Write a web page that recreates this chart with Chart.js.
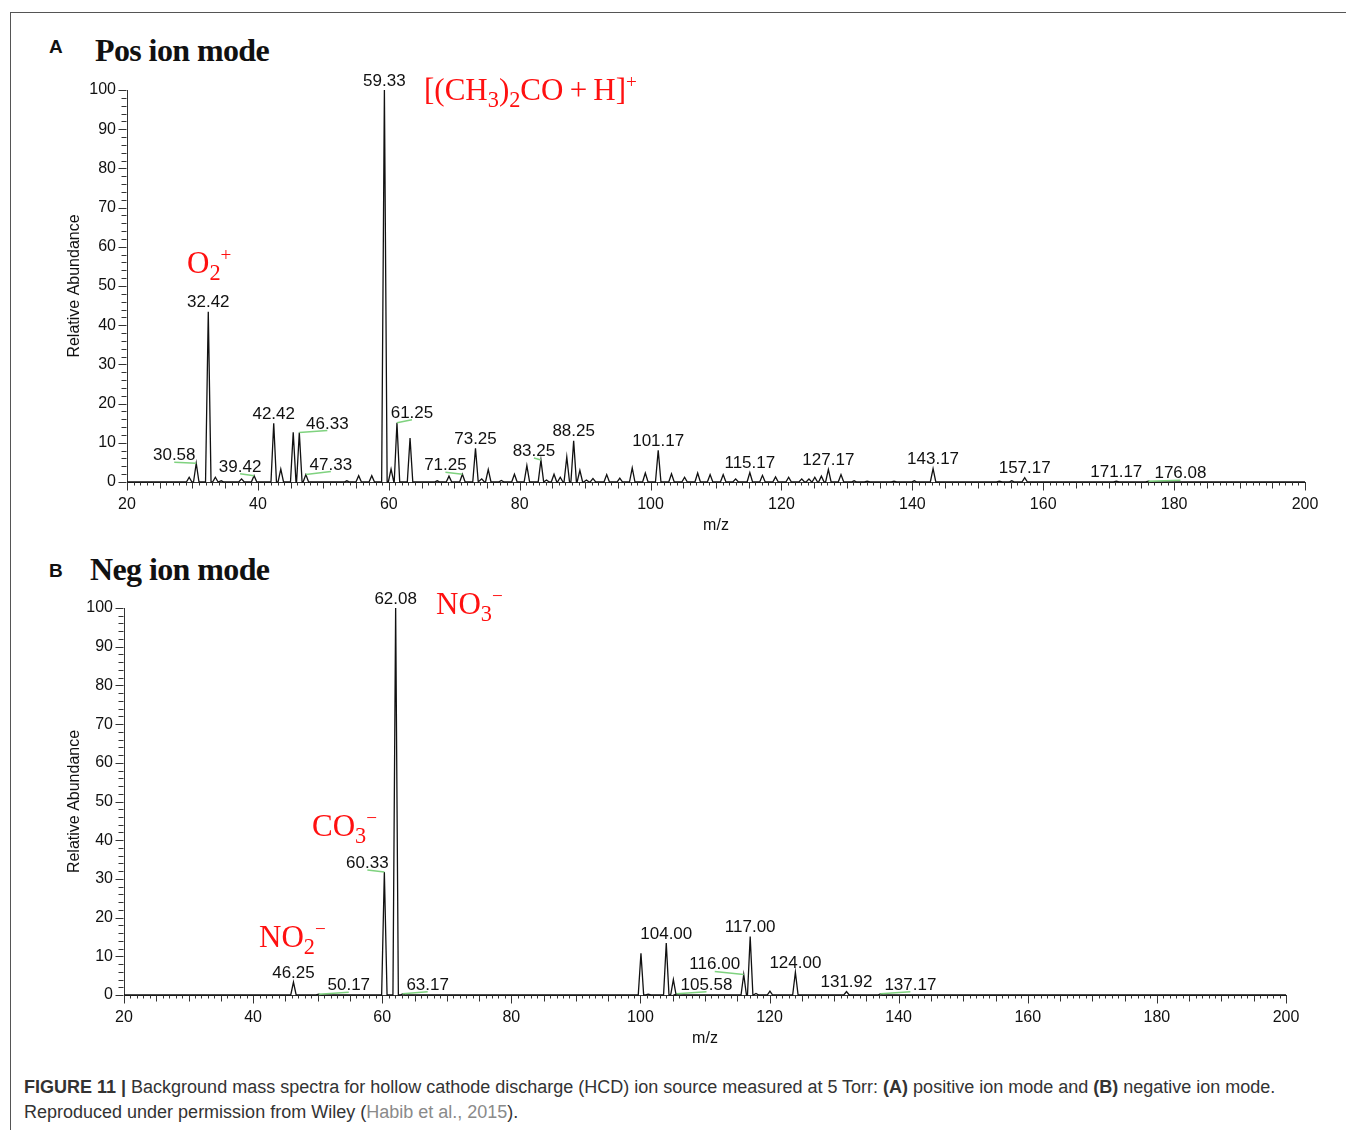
<!DOCTYPE html>
<html>
<head>
<meta charset="utf-8">
<script src="https://cdn.jsdelivr.net/npm/chart.js@4.4.0/dist/chart.umd.min.js"></script>
<style>
  body { margin:0; background:#fff; width:1346px; height:1130px; position:relative; overflow:hidden; font-family: Arial, "Liberation Sans", sans-serif; }
  .frame { position:absolute; left:10px; top:12px; width:1340px; height:1130px; border-left:1px solid #555; border-top:1px solid #555; }
  canvas { position:absolute; }
  .panel { position:absolute; font-weight:bold; font-size:19px; line-height:1; color:#111; }
  .ptitle { position:absolute; font-family:"Liberation Serif","Times New Roman",serif; font-weight:bold; font-size:32px; line-height:1; letter-spacing:-0.6px; color:#111; white-space:nowrap; }
  .ion { position:absolute; font-family:"Liberation Serif","Times New Roman",serif; color:#ff1010; font-size:31px; line-height:1; white-space:nowrap; }
  .ion sub { font-size:0.72em; vertical-align:-0.3em; line-height:0; }
  .ion sup { font-size:0.62em; vertical-align:0.6em; line-height:0; }
  .caption { position:absolute; left:24px; top:1075px; font-size:18px; line-height:25px; color:#333; white-space:nowrap; }
</style>
</head>
<body>
<div class="frame"></div>

<div class="panel" style="left:49px;top:37px">A</div>
<div class="ptitle" style="left:95px;top:34px">Pos ion mode</div>
<div class="panel" style="left:49px;top:561px">B</div>
<div class="ptitle" style="left:90px;top:553px">Neg ion mode</div>

<canvas id="posChart" width="1310" height="477" style="left:20px;top:60px"></canvas>
<canvas id="negChart" width="1290" height="475" style="left:20px;top:575px"></canvas>

<div class="ion" style="left:424px;top:74px">[(CH<sub>3</sub>)<sub>2</sub>CO&thinsp;+&thinsp;H]<sup>+</sup></div>
<div class="ion" style="left:187px;top:247px">O<sub>2</sub><sup>+</sup></div>
<div class="ion" style="left:436px;top:588px">NO<sub>3</sub><sup>&minus;</sup></div>
<div class="ion" style="left:312px;top:810px">CO<sub>3</sub><sup>&minus;</sup></div>
<div class="ion" style="left:259px;top:921px">NO<sub>2</sub><sup>&minus;</sup></div>

<div class="caption"><b>FIGURE 11 |</b> Background mass spectra for hollow cathode discharge (HCD) ion source measured at 5 Torr: <b>(A)</b> positive ion mode and <b>(B)</b> negative ion mode.<br>Reproduced under permission from Wiley (<span style="color:#8a8a8a">Habib et al., 2015</span>).</div>

<script>
// ===== DATA =====
const xTickValues = [20, 40, 60, 80, 100, 120, 140, 160, 180, 200];
const yTickValues = [0, 10, 20, 30, 40, 50, 60, 70, 80, 90, 100];

// positive ion mode: peak m/z and relative abundance
const posMz = [29.50, 30.58, 32.42, 33.50, 34.40, 37.50, 39.42, 42.42, 43.50, 45.40, 46.33, 47.33,
  53.60, 55.40, 57.40, 59.33, 60.35, 61.25, 63.25, 67.40, 69.20, 71.25, 73.25, 74.20, 75.20, 77.20,
  79.20, 81.10, 83.25, 84.10, 85.25, 86.20, 87.20, 88.25, 89.20, 90.20, 91.20, 93.30, 95.30, 97.20,
  99.20, 101.17, 103.20, 105.20, 107.20, 109.10, 111.10, 113.00, 115.17, 117.10, 119.10, 121.10,
  123.10, 124.20, 125.10, 126.10, 127.17, 129.10, 131.10, 133.10, 137.20, 140.30, 143.17, 153.30,
  155.20, 157.17, 171.17, 176.08];
const posAbund = [1.2, 4.8, 43.4, 1.2, 0.3, 0.8, 1.6, 15.0, 3.3, 12.7, 12.6, 1.9,
  0.3, 1.6, 1.6, 100, 3.3, 15.1, 11.2, 0.3, 1.5, 2.0, 8.6, 0.8, 3.2, 0.4,
  2.0, 4.2, 5.6, 0.5, 2.0, 1.2, 6.4, 10.5, 3.0, 0.5, 0.9, 1.9, 1.0, 3.6,
  2.3, 8.1, 2.1, 1.2, 2.3, 1.9, 1.9, 0.8, 2.4, 1.7, 1.3, 1.2,
  0.8, 0.8, 1.2, 1.5, 3.2, 1.9, 0.3, 0.2, 0.2, 0.3, 3.4, 0.2,
  0.3, 1.1, 0.2, 0.2];
const posLabels = ["30.58", "32.42", "39.42", "42.42", "46.33", "47.33", "59.33", "61.25", "71.25",
  "73.25", "83.25", "88.25", "101.17", "115.17", "127.17", "143.17", "157.17", "171.17", "176.08"];

// negative ion mode
const negMz = [46.25, 50.17, 60.33, 62.08, 63.17, 100.08, 101.20, 104.00, 105.10, 105.58,
  116.00, 117.00, 117.90, 120.06, 124.00, 131.92, 137.17];
const negAbund = [3.3, 0.2, 31.8, 100, 0.3, 10.8, 0.2, 13.4, 4.0, 0.3,
  5.3, 15.1, 0.4, 1.0, 5.9, 0.9, 0.3];
const negLabels = ["46.25", "50.17", "60.33", "62.08", "63.17", "104.00", "105.58", "116.00",
  "117.00", "124.00", "131.92", "137.17"];

// ===== LAYOUT (label offsets in px: text centre dx / baseline dy from peak apex) =====
const posLeaders = {
  "30.58": [-22, -3], "39.42": [-14, -4], "46.33": [28, -4], "47.33": [25, -5],
  "61.25": [15, -5], "71.25": [-17, -4], "83.25": [-7, -4], "176.08": [32, -3]
};
const negLeaders = {
  "60.33": [-17, -4], "50.17": [30, -4], "63.17": [25, -4], "105.58": [30, -4],
  "116.00": [-29, -5], "137.17": [30, -4]
};
const PEAK_HALF = 0.42;

// ===== BUILD PROFILE =====
function profile(mz, ab) {
  const pts = [{ x: 20, y: 0 }];
  mz.forEach((m, i) => {
    pts.push({ x: m - PEAK_HALF, y: 0 }, { x: m, y: ab[i] }, { x: m + PEAK_HALF, y: 0 });
  });
  pts.push({ x: 200, y: 0 });
  return pts;
}

// ===== PLUGINS =====
const peakLabels = {
  id: "peakLabels",
  afterDatasetsDraw(chart, args, opts) {
    const { ctx, scales: { x, y } } = chart;
    ctx.save();
    ctx.font = '17px Arial, "Liberation Sans", sans-serif';
    ctx.fillStyle = "#111";
    ctx.textAlign = "center";
    ctx.textBaseline = "alphabetic";
    opts.labels.forEach(t => {
      const m = parseFloat(t);
      let i = 0;
      opts.mz.forEach((v, k) => { if (Math.abs(v - m) < Math.abs(opts.mz[i] - m)) i = k; });
      const px = x.getPixelForValue(opts.mz[i]);
      const py = y.getPixelForValue(opts.abund[i]);
      const off = opts.leaders[t];
      if (off) {
        const tx = px + off[0], base = py + off[1];
        ctx.strokeStyle = "#7fd27f";
        ctx.lineWidth = 1.5;
        ctx.beginPath();
        ctx.moveTo(tx, base + 2);
        ctx.lineTo(px, py);
        ctx.stroke();
        ctx.fillText(t, tx, base);
      } else {
        ctx.fillText(t, px, py - 4.5);
      }
    });
    ctx.restore();
  }
};

const tickMarks = {
  id: "tickMarks",
  afterDraw(chart) {
    const { ctx, scales: { x, y } } = chart;
    ctx.save();
    ctx.strokeStyle = "#333";
    ctx.lineWidth = 1;
    ctx.beginPath();
    const yb = Math.round(y.getPixelForValue(0)) + 0.5;
    for (let v = x.min; v <= x.max; v++) {
      const len = v % 20 === 0 ? 8 : (v % 5 === 0 ? 6 : 3);
      const px = Math.round(x.getPixelForValue(v)) + 0.5;
      ctx.moveTo(px, yb);
      ctx.lineTo(px, yb + len);
    }
    const xl = Math.round(x.getPixelForValue(x.min)) - 0.5;
    for (let v = y.min; v <= y.max; v += 2) {
      const len = v % 10 === 0 ? 8 : 5;
      const py = Math.round(y.getPixelForValue(v)) + 0.5;
      ctx.moveTo(xl, py);
      ctx.lineTo(xl - len, py);
    }
    ctx.stroke();
    ctx.restore();
  }
};

// ===== CHART =====
function makeSpectrum(id, mz, ab, labels, leaders, box) {
  const tickFont = { family: 'Arial, "Liberation Sans", sans-serif', size: 16 };
  return new Chart(document.getElementById(id), {
    type: "line",
    data: {
      datasets: [{
        data: profile(mz, ab),
        borderColor: "#111",
        borderWidth: 1.3,
        pointRadius: 0,
        tension: 0,
        fill: false
      }]
    },
    options: {
      responsive: false,
      animation: false,
      parsing: false,
      clip: false,
      layout: { padding: { top: box.top, right: box.right, left: 0, bottom: 0 } },
      plugins: {
        legend: { display: false },
        tooltip: { enabled: false },
        peakLabels: { mz: mz, abund: ab, labels: labels, leaders: leaders }
      },
      scales: {
        x: {
          type: "linear", min: 20, max: 200,
          afterBuildTicks: s => { s.ticks = xTickValues.map(v => ({ value: v })); },
          afterFit: s => { s.height = 55; },
          ticks: { font: tickFont, color: "#111", padding: 5, maxRotation: 0, autoSkip: false },
          grid: { display: false, drawTicks: true, tickLength: 8 },
          border: { display: true, color: "#333", width: 1 },
          title: { display: true, text: "m/z", font: tickFont, color: "#111", padding: { top: 0, bottom: 2 } }
        },
        y: {
          type: "linear", min: 0, max: 100,
          afterBuildTicks: s => { s.ticks = yTickValues.map(v => ({ value: v })); },
          afterFit: s => { s.width = box.yw; },
          ticks: { font: tickFont, color: "#111", padding: 3, autoSkip: false },
          grid: { display: false, drawTicks: true, tickLength: 8 },
          border: { display: true, color: "#333", width: 1 },
          title: { display: true, text: "Relative Abundance", font: tickFont, color: "#111", padding: { top: 45, bottom: 0 } }
        }
      }
    },
    plugins: [peakLabels, tickMarks]
  });
}

makeSpectrum("posChart", posMz, posAbund, posLabels, posLeaders, { top: 30, right: 25, yw: 107 });
makeSpectrum("negChart", negMz, negAbund, negLabels, negLeaders, { top: 33, right: 24, yw: 104 });
</script>
</body>
</html>
